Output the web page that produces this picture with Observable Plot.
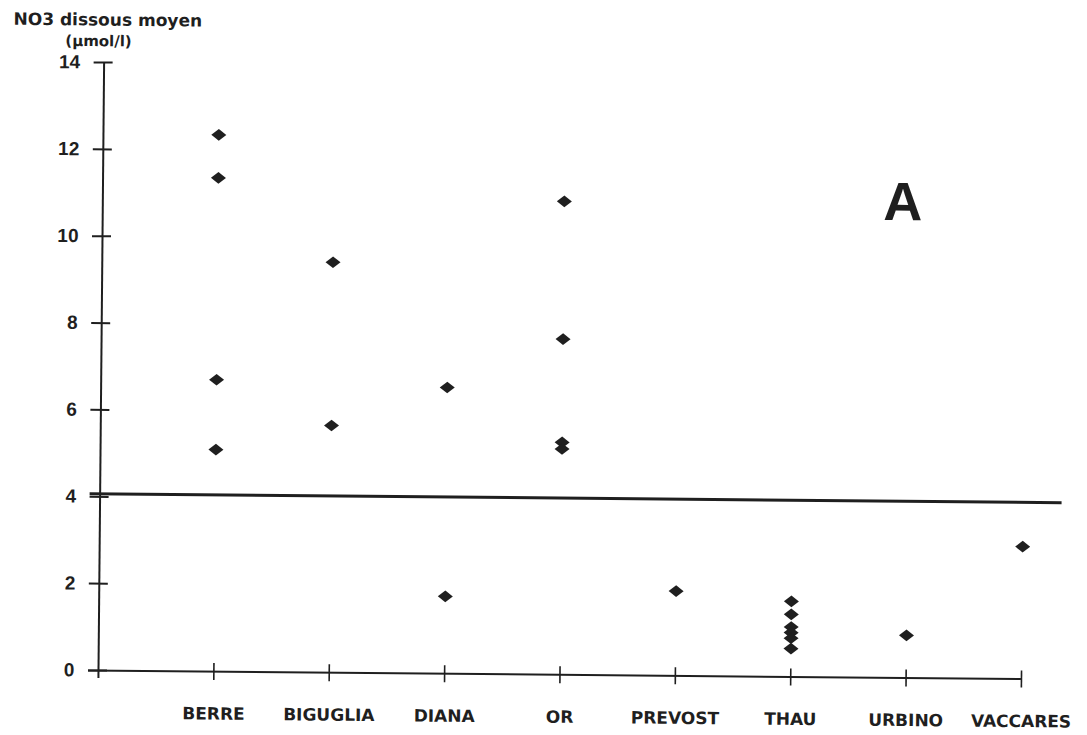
<!DOCTYPE html>
<html>
<head>
<meta charset="utf-8">
<script src="https://cdn.jsdelivr.net/npm/d3@7"></script>
<script src="https://cdn.jsdelivr.net/npm/@observablehq/plot@0.6"></script>
<style>
  html, body { margin: 0; padding: 0; background: #ffffff; }
  #chart svg { display: block; }
</style>
</head>
<body>
<div id="chart"></div>
<script>
// Lagoons along the x axis
const categories = ["BERRE", "BIGUGLIA", "DIANA", "OR", "PREVOST", "THAU", "URBINO", "VACCARES"];

// Mean dissolved NO3 (µmol/l), one array per lagoon
const berre    = [12.36, 11.37, 6.72, 5.11];
const biguglia = [9.45, 5.69];
const diana    = [6.59, 1.78];
const or       = [10.90, 7.73, 5.35, 5.20];
const prevost  = [1.95];
const thau     = [1.74, 1.44, 1.15, 1.02, 0.89, 0.65];
const urbino   = [0.98];
const vaccares = [3.05];

// Axis ticks and reference threshold
const yTicks = [0, 2, 4, 6, 8, 10, 12, 14];
const threshold = [4.07];

const series = [berre, biguglia, diana, or, prevost, thau, urbino, vaccares];
const points = series.flatMap((vals, i) =>
  vals.map(v => ({lagoon: categories[i], pos: i + 1, no3: v}))
);
const xTicks = categories.map((_, i) => i + 1);

// Flattened diamond marker (wider than tall)
const flatDiamond = {
  draw(context, size) {
    const r = Math.sqrt(size / Math.PI);
    const hw = 1.25 * r, hh = 0.97 * r;
    context.moveTo(-hw, 0);
    context.lineTo(0, -hh);
    context.lineTo(hw, 0);
    context.lineTo(0, hh);
    context.closePath();
  }
};

const ink = "#1f1f1f";
const labelFont = "'DejaVu Sans', 'Liberation Sans', Arial, sans-serif";
const numFont = "'Liberation Sans', Arial, sans-serif";

const chart = Plot.plot({
  width: 1087,
  height: 735,
  marginLeft: 98,
  marginRight: 66,
  marginTop: 62,
  marginBottom: 65,
  style: {background: "#ffffff", color: ink, fontFamily: numFont},
  x: {type: "linear", domain: [0, categories.length], label: null},
  y: {domain: [0, 14], label: null},
  marks: [
    // axis lines, each running slightly past the other
    Plot.ruleX([0], {stroke: ink, strokeWidth: 2, insetBottom: -8}),
    Plot.ruleY([0], {stroke: ink, strokeWidth: 2, insetLeft: -10}),
    // threshold line
    Plot.ruleY(threshold, {stroke: ink, strokeWidth: 3, insetLeft: -10, insetRight: -39}),
    Plot.axisY(yTicks, {
      tickSize: 19, dx: 9, tickPadding: 14, strokeWidth: 2, stroke: ink,
      fontSize: 19, fontWeight: "bold", fontFamily: numFont, fill: ink, label: null
    }),
    Plot.axisX(xTicks, {
      tickSize: 17, dy: -8, tickPadding: 27, strokeWidth: 1.6, stroke: ink,
      tickFormat: i => categories[i - 1],
      fontSize: 17, fontWeight: "bold", fontFamily: labelFont, fill: ink, label: null
    }),
    Plot.dot(points, {x: "pos", y: "no3", symbol: flatDiamond, r: 6, fill: ink, stroke: "none"}),
    // y axis title, two lines above the axis
    Plot.text(["NO3 dissous moyen"], {
      frameAnchor: "top-left", textAnchor: "start", lineAnchor: "top",
      dx: -91, dy: -49, fontSize: 17, fontWeight: "bold", fontFamily: labelFont, fill: ink
    }),
    Plot.text(["(µmol/l)"], {
      frameAnchor: "top-left", textAnchor: "start", lineAnchor: "top",
      dx: -39, dy: -27, fontSize: 15, fontWeight: "bold", fontFamily: labelFont, fill: ink
    }),
    // panel letter
    Plot.text(["A"], {
      frameAnchor: "top-right", textAnchor: "middle", lineAnchor: "middle",
      dx: -123, dy: 133, fontSize: 54, fontWeight: "bold", fontFamily: numFont, fill: ink
    })
  ]
});

// the whole figure sits at a slight tilt
chart.style.transformOrigin = "98px 670px";
chart.style.transform = "rotate(0.53deg)";
document.getElementById("chart").appendChild(chart);
</script>
</body>
</html>
